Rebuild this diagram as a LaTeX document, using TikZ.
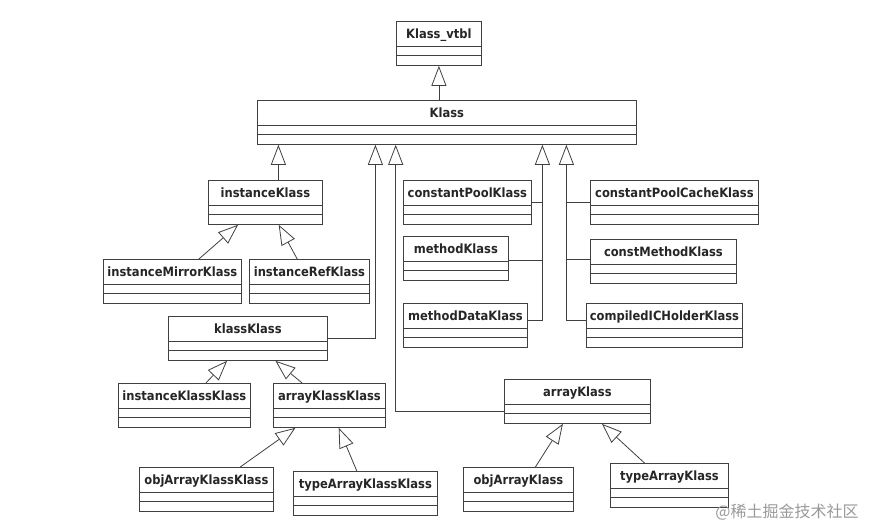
\documentclass[tikz,border=0pt]{standalone}
\usepackage{fontspec}
\usepackage{tikz}
\usetikzlibrary{arrows.meta, positioning}
\newfontfamily\umlfont[FakeStretch=0.9]{DejaVu Sans Bold}
\newfontfamily\cjkfont{Noto Sans CJK SC}

\begin{document}
\begin{tikzpicture}[
    x=1pt, y=-1pt,
    % class box with name compartment and two empty compartments
    klassbox/.style={
        rectangle,
        draw=black!75,
        line width=0.8pt,
        anchor=north west,
        inner xsep=0pt,
        inner ysep=0pt,
        text height=17.5pt,
        text depth=26.5pt,
        align=center,
        font=\umlfont\fontsize{12.8}{14}\selectfont,
        text=black!85
    },
    extends/.style={draw=black!75, line width=0.8pt,
        -{Triangle[open, length=20pt, width=15pt]}},
    wire/.style={draw=black!75, line width=0.8pt}
]
    \useasboundingbox (0,0) rectangle (874,528);

    % Nodes
    \node [klassbox, minimum width=85pt]  (vtbl)      at (396,21)  {Klass\_vtbl};
    \node [klassbox, minimum width=379pt] (klass)     at (257,100) {Klass};
    \node [klassbox, minimum width=114pt] (instK)     at (208,180) {instanceKlass};
    \node [klassbox, minimum width=138pt] (instMirK)  at (103,259) {instanceMirrorKlass};
    \node [klassbox, minimum width=120pt] (instRefK)  at (249,259) {instanceRefKlass};
    \node [klassbox, minimum width=159pt] (klassK)    at (168,316) {klassKlass};
    \node [klassbox, minimum width=132pt] (instKK)    at (118,383) {instanceKlassKlass};
    \node [klassbox, minimum width=112pt] (arrKK)     at (273,383) {arrayKlassKlass};
    \node [klassbox, minimum width=134pt] (objArrKK)  at (139,467) {objArrayKlassKlass};
    \node [klassbox, minimum width=144pt] (typeArrKK) at (293,471) {typeArrayKlassKlass};
    \node [klassbox, minimum width=128pt] (cpK)       at (403,180) {constantPoolKlass};
    \node [klassbox, minimum width=105pt] (methK)     at (403,236) {methodKlass};
    \node [klassbox, minimum width=124pt] (methDataK) at (403,303) {methodDataKlass};
    \node [klassbox, minimum width=168pt] (cpCacheK)  at (590,180) {constantPoolCacheKlass};
    \node [klassbox, minimum width=146pt] (constMethK) at (590,239) {constMethodKlass};
    \node [klassbox, minimum width=156pt] (icHolderK) at (586,303) {compiledICHolderKlass};
    \node [klassbox, minimum width=146pt] (arrK)      at (504,379) {arrayKlass};
    \node [klassbox, minimum width=110pt] (objArrK)   at (463,467) {objArrayKlass};
    \node [klassbox, minimum width=118pt] (typeArrK)  at (610,463) {typeArrayKlass};

    % compartment lines
    \foreach \n in {vtbl, klass, instK, instMirK, instRefK, klassK, instKK, arrKK,
                    objArrKK, typeArrKK, cpK, methK, methDataK, cpCacheK, constMethK,
                    icHolderK, arrK, objArrK, typeArrK} {
        \path [wire] ([yshift=-25.5pt]\n.north west) -- ([yshift=-25.5pt]\n.north east);
        \path [wire] ([yshift=-34pt]\n.north west) -- ([yshift=-34pt]\n.north east);
    }

    % trunks for the two groups on the right
    \coordinate (trunkA) at ([xshift=95.5pt]klass.south);
    \coordinate (trunkB) at ([xshift=119.5pt]klass.south);

    % Paths (Arrows)
    \path [extends] (klass.north -| vtbl.south) -- (vtbl.south);
    \path [extends] ([xshift=13pt]instK.north) -- ([xshift=13pt]instK.north |- klass.south);
    \path [extends] ([xshift=26.5pt]instMirK.north) -- ([xshift=-27.3pt]instK.south);
    \path [extends] ([xshift=-12.2pt]instRefK.north) -- ([xshift=13.3pt]instK.south);
    \path [extends] (klassK.east) -| ([xshift=-71.5pt]klass.south);
    \path [extends] ([xshift=21.5pt]instKK.north) -- ([xshift=-20.8pt]klassK.south);
    \path [extends] ([xshift=-27.3pt]arrKK.north) -- ([xshift=27.5pt]klassK.south);
    \path [extends] ([xshift=33.8pt]objArrKK.north) -- ([xshift=-34pt]arrKK.south);
    \path [extends] ([xshift=-8.6pt]typeArrKK.north) -- ([xshift=9.3pt]arrKK.south);
    \path [extends] ([yshift=-10pt]arrK.west) -| ([xshift=-51.2pt]klass.south);
    \path [extends] ([xshift=17pt]objArrK.north) -- ([xshift=-14.5pt]arrK.south);
    \path [extends] ([xshift=-24.9pt]typeArrK.north) -- ([xshift=24.5pt]arrK.south);

    \path [extends] ([yshift=5pt]methDataK.east) -| (trunkA);
    \path [wire] (cpK.east) -- (cpK.east -| trunkA);
    \path [wire] ([yshift=-2pt]methK.east) -- ([yshift=-2pt]methK.east -| trunkA);

    \path [extends] ([yshift=5pt]icHolderK.west) -| (trunkB);
    \path [wire] (cpCacheK.west) -- (cpCacheK.west -| trunkB);
    \path [wire] ([yshift=2pt]constMethK.west) -- ([yshift=2pt]constMethK.west -| trunkB);

    % watermark
    \node [font=\cjkfont\fontsize{16}{18}\selectfont, text=black!40] (mark) at (787,512) {@稀土掘金技术社区};
\end{tikzpicture}
\end{document}
